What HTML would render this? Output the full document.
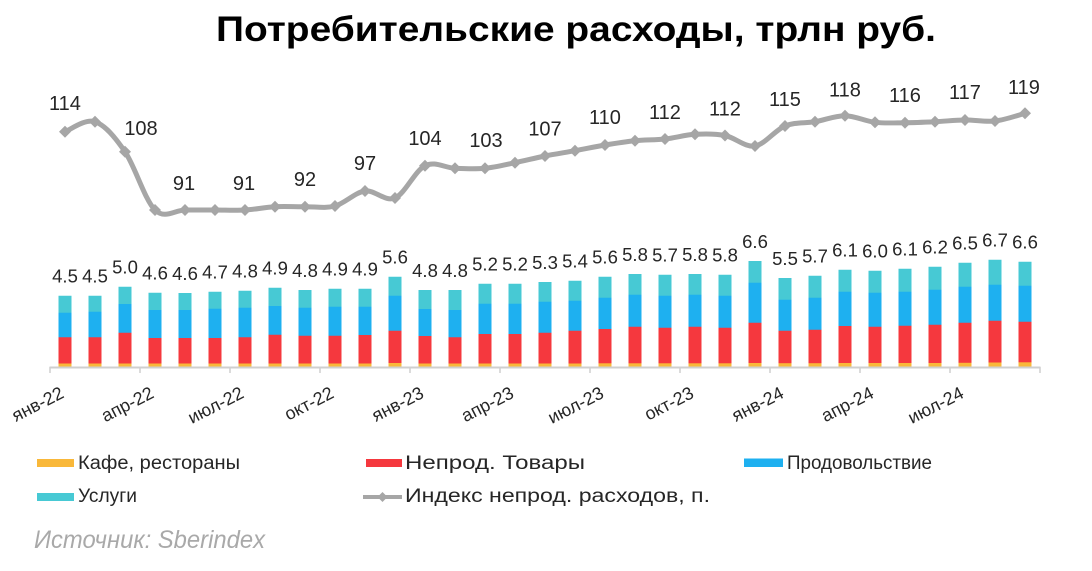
<!DOCTYPE html>
<html>
<head>
<meta charset="utf-8">
<style>
html,body{margin:0;padding:0;background:#fff;}
svg{display:block;}
text{font-family:"Liberation Sans","Noto Sans CJK SC",sans-serif;}
</style>
</head>
<body>
<svg width="1092" height="571" viewBox="0 0 1092 571" xmlns="http://www.w3.org/2000/svg">
<rect width="1092" height="571" fill="#fff"/>

<!-- Title -->
<text x="216" y="41" font-size="35" font-weight="bold" fill="#000" textLength="720" lengthAdjust="spacingAndGlyphs">Потребительские расходы, трлн руб.</text>

<!-- Bars -->
<g stroke-width="13">
<g stroke="#47c9d4">
<line x1="65" y1="295.7" x2="65" y2="367"/>
<line x1="95" y1="295.7" x2="95" y2="367"/>
<line x1="125" y1="286.7" x2="125" y2="367"/>
<line x1="155" y1="292.7" x2="155" y2="367"/>
<line x1="185" y1="293" x2="185" y2="367"/>
<line x1="215" y1="291.7" x2="215" y2="367"/>
<line x1="245" y1="290.7" x2="245" y2="367"/>
<line x1="275" y1="287.7" x2="275" y2="367"/>
<line x1="305" y1="290" x2="305" y2="367"/>
<line x1="335" y1="288.7" x2="335" y2="367"/>
<line x1="365" y1="288.7" x2="365" y2="367"/>
<line x1="395" y1="276.7" x2="395" y2="367"/>
<line x1="425" y1="290" x2="425" y2="367"/>
<line x1="455" y1="290" x2="455" y2="367"/>
<line x1="485" y1="283.7" x2="485" y2="367"/>
<line x1="515" y1="283.7" x2="515" y2="367"/>
<line x1="545" y1="282" x2="545" y2="367"/>
<line x1="575" y1="280.7" x2="575" y2="367"/>
<line x1="605" y1="276.7" x2="605" y2="367"/>
<line x1="635" y1="274" x2="635" y2="367"/>
<line x1="665" y1="274.7" x2="665" y2="367"/>
<line x1="695" y1="274" x2="695" y2="367"/>
<line x1="725" y1="274.7" x2="725" y2="367"/>
<line x1="755" y1="261" x2="755" y2="367"/>
<line x1="785" y1="278" x2="785" y2="367"/>
<line x1="815" y1="275.7" x2="815" y2="367"/>
<line x1="845" y1="269.7" x2="845" y2="367"/>
<line x1="875" y1="270.7" x2="875" y2="367"/>
<line x1="905" y1="268.7" x2="905" y2="367"/>
<line x1="935" y1="266.7" x2="935" y2="367"/>
<line x1="965" y1="262.7" x2="965" y2="367"/>
<line x1="995" y1="259.7" x2="995" y2="367"/>
<line x1="1025" y1="261.7" x2="1025" y2="367"/>
</g>
<g stroke="#1eb0f0">
<line x1="65" y1="312.7" x2="65" y2="367"/>
<line x1="95" y1="311.7" x2="95" y2="367"/>
<line x1="125" y1="304" x2="125" y2="367"/>
<line x1="155" y1="310" x2="155" y2="367"/>
<line x1="185" y1="310" x2="185" y2="367"/>
<line x1="215" y1="308.7" x2="215" y2="367"/>
<line x1="245" y1="307.7" x2="245" y2="367"/>
<line x1="275" y1="306" x2="275" y2="367"/>
<line x1="305" y1="307.7" x2="305" y2="367"/>
<line x1="335" y1="306.7" x2="335" y2="367"/>
<line x1="365" y1="306.7" x2="365" y2="367"/>
<line x1="395" y1="295.7" x2="395" y2="367"/>
<line x1="425" y1="309" x2="425" y2="367"/>
<line x1="455" y1="310" x2="455" y2="367"/>
<line x1="485" y1="303.7" x2="485" y2="367"/>
<line x1="515" y1="303.7" x2="515" y2="367"/>
<line x1="545" y1="301.7" x2="545" y2="367"/>
<line x1="575" y1="300.7" x2="575" y2="367"/>
<line x1="605" y1="297.7" x2="605" y2="367"/>
<line x1="635" y1="294.7" x2="635" y2="367"/>
<line x1="665" y1="295.7" x2="665" y2="367"/>
<line x1="695" y1="294.7" x2="695" y2="367"/>
<line x1="725" y1="295.7" x2="725" y2="367"/>
<line x1="755" y1="282.7" x2="755" y2="367"/>
<line x1="785" y1="299.7" x2="785" y2="367"/>
<line x1="815" y1="297.7" x2="815" y2="367"/>
<line x1="845" y1="291.7" x2="845" y2="367"/>
<line x1="875" y1="292.7" x2="875" y2="367"/>
<line x1="905" y1="291.7" x2="905" y2="367"/>
<line x1="935" y1="289.7" x2="935" y2="367"/>
<line x1="965" y1="286.7" x2="965" y2="367"/>
<line x1="995" y1="284.7" x2="995" y2="367"/>
<line x1="1025" y1="285.7" x2="1025" y2="367"/>
</g>
<g stroke="#f5383e">
<line x1="65" y1="337.3" x2="65" y2="367"/>
<line x1="95" y1="337.3" x2="95" y2="367"/>
<line x1="125" y1="332.7" x2="125" y2="367"/>
<line x1="155" y1="338" x2="155" y2="367"/>
<line x1="185" y1="338" x2="185" y2="367"/>
<line x1="215" y1="338" x2="215" y2="367"/>
<line x1="245" y1="337.3" x2="245" y2="367"/>
<line x1="275" y1="334.7" x2="275" y2="367"/>
<line x1="305" y1="335.7" x2="305" y2="367"/>
<line x1="335" y1="335.7" x2="335" y2="367"/>
<line x1="365" y1="335" x2="365" y2="367"/>
<line x1="395" y1="330.7" x2="395" y2="367"/>
<line x1="425" y1="336" x2="425" y2="367"/>
<line x1="455" y1="337.3" x2="455" y2="367"/>
<line x1="485" y1="334" x2="485" y2="367"/>
<line x1="515" y1="334" x2="515" y2="367"/>
<line x1="545" y1="332.7" x2="545" y2="367"/>
<line x1="575" y1="330.7" x2="575" y2="367"/>
<line x1="605" y1="329" x2="605" y2="367"/>
<line x1="635" y1="326.7" x2="635" y2="367"/>
<line x1="665" y1="327.7" x2="665" y2="367"/>
<line x1="695" y1="326.7" x2="695" y2="367"/>
<line x1="725" y1="327.7" x2="725" y2="367"/>
<line x1="755" y1="322.7" x2="755" y2="367"/>
<line x1="785" y1="330.7" x2="785" y2="367"/>
<line x1="815" y1="329.7" x2="815" y2="367"/>
<line x1="845" y1="326" x2="845" y2="367"/>
<line x1="875" y1="326.7" x2="875" y2="367"/>
<line x1="905" y1="325.7" x2="905" y2="367"/>
<line x1="935" y1="324.7" x2="935" y2="367"/>
<line x1="965" y1="322.7" x2="965" y2="367"/>
<line x1="995" y1="320.7" x2="995" y2="367"/>
<line x1="1025" y1="321.7" x2="1025" y2="367"/>
</g>
<g stroke="#f9b83a">
<line x1="65" y1="363.5" x2="65" y2="367"/>
<line x1="95" y1="363.5" x2="95" y2="367"/>
<line x1="125" y1="363.5" x2="125" y2="367"/>
<line x1="155" y1="363.5" x2="155" y2="367"/>
<line x1="185" y1="363.5" x2="185" y2="367"/>
<line x1="215" y1="363.5" x2="215" y2="367"/>
<line x1="245" y1="363.5" x2="245" y2="367"/>
<line x1="275" y1="363.5" x2="275" y2="367"/>
<line x1="305" y1="363.5" x2="305" y2="367"/>
<line x1="335" y1="363.5" x2="335" y2="367"/>
<line x1="365" y1="363.5" x2="365" y2="367"/>
<line x1="395" y1="363" x2="395" y2="367"/>
<line x1="425" y1="363.5" x2="425" y2="367"/>
<line x1="455" y1="363.5" x2="455" y2="367"/>
<line x1="485" y1="363.5" x2="485" y2="367"/>
<line x1="515" y1="363.5" x2="515" y2="367"/>
<line x1="545" y1="363.5" x2="545" y2="367"/>
<line x1="575" y1="363.5" x2="575" y2="367"/>
<line x1="605" y1="363.3" x2="605" y2="367"/>
<line x1="635" y1="363.3" x2="635" y2="367"/>
<line x1="665" y1="363.3" x2="665" y2="367"/>
<line x1="695" y1="363.3" x2="695" y2="367"/>
<line x1="725" y1="363.3" x2="725" y2="367"/>
<line x1="755" y1="363" x2="755" y2="367"/>
<line x1="785" y1="363.2" x2="785" y2="367"/>
<line x1="815" y1="363.2" x2="815" y2="367"/>
<line x1="845" y1="363" x2="845" y2="367"/>
<line x1="875" y1="363" x2="875" y2="367"/>
<line x1="905" y1="363" x2="905" y2="367"/>
<line x1="935" y1="363" x2="935" y2="367"/>
<line x1="965" y1="362.8" x2="965" y2="367"/>
<line x1="995" y1="362.5" x2="995" y2="367"/>
<line x1="1025" y1="362.3" x2="1025" y2="367"/>
</g>
</g>

<!-- Axis -->
<line x1="49.5" y1="367.5" x2="1040.5" y2="367.5" stroke="#cfcfcf" stroke-width="2"/>
<g stroke="#cfcfcf" stroke-width="1.5">
<line x1="50" y1="367" x2="50" y2="373"/>
<line x1="140" y1="367" x2="140" y2="373"/>
<line x1="230" y1="367" x2="230" y2="373"/>
<line x1="320" y1="367" x2="320" y2="373"/>
<line x1="410" y1="367" x2="410" y2="373"/>
<line x1="500" y1="367" x2="500" y2="373"/>
<line x1="590" y1="367" x2="590" y2="373"/>
<line x1="680" y1="367" x2="680" y2="373"/>
<line x1="770" y1="367" x2="770" y2="373"/>
<line x1="860" y1="367" x2="860" y2="373"/>
<line x1="950" y1="367" x2="950" y2="373"/>
<line x1="1040" y1="367" x2="1040" y2="373"/>
</g>

<!-- X labels -->
<g font-size="18" fill="#262626" text-anchor="end">
<text transform="translate(65,397) rotate(-27)">янв-22</text>
<text transform="translate(155,397) rotate(-27)">апр-22</text>
<text transform="translate(245,397) rotate(-27)">июл-22</text>
<text transform="translate(335,397) rotate(-27)">окт-22</text>
<text transform="translate(425,397) rotate(-27)">янв-23</text>
<text transform="translate(515,397) rotate(-27)">апр-23</text>
<text transform="translate(605,397) rotate(-27)">июл-23</text>
<text transform="translate(695,397) rotate(-27)">окт-23</text>
<text transform="translate(785,397) rotate(-27)">янв-24</text>
<text transform="translate(875,397) rotate(-27)">апр-24</text>
<text transform="translate(965,397) rotate(-27)">июл-24</text>
</g>

<!-- Bar value labels -->
<g font-size="18.5" fill="#262626" text-anchor="middle">
<text x="65" y="282.7">4.5</text>
<text x="95" y="282.7">4.5</text>
<text x="125" y="273.7">5.0</text>
<text x="155" y="279.7">4.6</text>
<text x="185" y="280">4.6</text>
<text x="215" y="278.7">4.7</text>
<text x="245" y="277.7">4.8</text>
<text x="275" y="274.7">4.9</text>
<text x="305" y="277">4.8</text>
<text x="335" y="275.7">4.9</text>
<text x="365" y="275.7">4.9</text>
<text x="395" y="263.7">5.6</text>
<text x="425" y="277">4.8</text>
<text x="455" y="277">4.8</text>
<text x="485" y="270.7">5.2</text>
<text x="515" y="270.7">5.2</text>
<text x="545" y="269">5.3</text>
<text x="575" y="267.7">5.4</text>
<text x="605" y="263.7">5.6</text>
<text x="635" y="261">5.8</text>
<text x="665" y="261.7">5.7</text>
<text x="695" y="261">5.8</text>
<text x="725" y="261.7">5.8</text>
<text x="755" y="248">6.6</text>
<text x="785" y="265">5.5</text>
<text x="815" y="262.7">5.7</text>
<text x="845" y="256.7">6.1</text>
<text x="875" y="257.7">6.0</text>
<text x="905" y="255.7">6.1</text>
<text x="935" y="253.7">6.2</text>
<text x="965" y="249.7">6.5</text>
<text x="995" y="246.7">6.7</text>
<text x="1025" y="248.7">6.6</text>
</g>

<!-- Index line -->
<path fill="none" stroke="#a6a6a6" stroke-width="5" stroke-linejoin="round" stroke-linecap="round"
d="M65,131.7 C70,130 85,118.4 95,121.7 C105,125 115,137 125,151.7 C135,166.4 145,200.3 155,210 C165,219.7 175,210 185,210 C195,210 205,210 215,210 C225,210 235,210.55 245,210 C255,209.45 265,207.25 275,206.7 C285,206.15 295,206.82 305,206.7 C315,206.58 325,208.62 335,206 C345,203.38 355,192.33 365,191 C375,189.67 385,202.22 395,198 C405,193.78 415,170.65 425,165.7 C435,160.75 445,167.87 455,168.3 C465,168.73 475,169.23 485,168.3 C495,167.37 505,164.75 515,162.7 C525,160.65 535,158 545,156 C555,154 565,152.53 575,150.7 C585,148.87 595,146.67 605,145 C615,143.33 625,141.7 635,140.7 C645,139.7 655,140.07 665,139 C675,137.93 685,134.88 695,134.3 C705,133.72 715,133.55 725,135.5 C735,137.45 745,147.58 755,146 C765,144.42 775,130.05 785,126 C795,121.95 805,123.42 815,121.7 C825,119.98 835,115.6 845,115.7 C855,115.8 865,121.13 875,122.3 C885,123.47 895,122.8 905,122.7 C915,122.6 925,122.15 935,121.7 C945,121.25 955,120.12 965,120 C975,119.88 985,122.12 995,121 C1005,119.88 1020,114.6 1025,113.3"/>

<!-- Markers -->
<g fill="#a6a6a6">
<path d="M65,125.7 l6,6 l-6,6 l-6,-6z"/>
<path d="M95,115.7 l6,6 l-6,6 l-6,-6z"/>
<path d="M125,145.7 l6,6 l-6,6 l-6,-6z"/>
<path d="M155,204 l6,6 l-6,6 l-6,-6z"/>
<path d="M185,204 l6,6 l-6,6 l-6,-6z"/>
<path d="M215,204 l6,6 l-6,6 l-6,-6z"/>
<path d="M245,204 l6,6 l-6,6 l-6,-6z"/>
<path d="M275,200.7 l6,6 l-6,6 l-6,-6z"/>
<path d="M305,200.7 l6,6 l-6,6 l-6,-6z"/>
<path d="M335,200 l6,6 l-6,6 l-6,-6z"/>
<path d="M365,185 l6,6 l-6,6 l-6,-6z"/>
<path d="M395,192 l6,6 l-6,6 l-6,-6z"/>
<path d="M425,159.7 l6,6 l-6,6 l-6,-6z"/>
<path d="M455,162.3 l6,6 l-6,6 l-6,-6z"/>
<path d="M485,162.3 l6,6 l-6,6 l-6,-6z"/>
<path d="M515,156.7 l6,6 l-6,6 l-6,-6z"/>
<path d="M545,150 l6,6 l-6,6 l-6,-6z"/>
<path d="M575,144.7 l6,6 l-6,6 l-6,-6z"/>
<path d="M605,139 l6,6 l-6,6 l-6,-6z"/>
<path d="M635,134.7 l6,6 l-6,6 l-6,-6z"/>
<path d="M665,133 l6,6 l-6,6 l-6,-6z"/>
<path d="M695,128.3 l6,6 l-6,6 l-6,-6z"/>
<path d="M725,129.5 l6,6 l-6,6 l-6,-6z"/>
<path d="M755,140 l6,6 l-6,6 l-6,-6z"/>
<path d="M785,120 l6,6 l-6,6 l-6,-6z"/>
<path d="M815,115.7 l6,6 l-6,6 l-6,-6z"/>
<path d="M845,109.7 l6,6 l-6,6 l-6,-6z"/>
<path d="M875,116.3 l6,6 l-6,6 l-6,-6z"/>
<path d="M905,116.7 l6,6 l-6,6 l-6,-6z"/>
<path d="M935,115.7 l6,6 l-6,6 l-6,-6z"/>
<path d="M965,114 l6,6 l-6,6 l-6,-6z"/>
<path d="M995,115 l6,6 l-6,6 l-6,-6z"/>
<path d="M1025,107.3 l6,6 l-6,6 l-6,-6z"/>
</g>

<!-- Index labels -->
<g font-size="20" fill="#262626" text-anchor="middle">
<text x="65" y="110">114</text>
<text x="141" y="135">108</text>
<text x="184" y="190">91</text>
<text x="244" y="190">91</text>
<text x="305" y="186">92</text>
<text x="365" y="170">97</text>
<text x="425" y="145">104</text>
<text x="486" y="147">103</text>
<text x="545" y="135.7">107</text>
<text x="605" y="124">110</text>
<text x="665" y="119">112</text>
<text x="725" y="115.7">112</text>
<text x="785" y="106">115</text>
<text x="845" y="96.7">118</text>
<text x="905" y="102">116</text>
<text x="965" y="99">117</text>
<text x="1024" y="94">119</text>
</g>

<!-- Legend -->
<rect x="37" y="459" width="37" height="8" fill="#f9b83a"/>
<text x="78" y="469" font-size="19" fill="#262626" textLength="162" lengthAdjust="spacingAndGlyphs">Кафе, рестораны</text>
<rect x="366" y="459" width="36" height="8" fill="#f5383e"/>
<text x="405" y="469" font-size="19" fill="#262626" textLength="180" lengthAdjust="spacingAndGlyphs">Непрод. Товары</text>
<rect x="744" y="458.5" width="39" height="8.5" fill="#1eb0f0"/>
<text x="787" y="469" font-size="19" fill="#262626" textLength="145" lengthAdjust="spacingAndGlyphs">Продовольствие</text>
<rect x="37" y="493" width="37" height="8" fill="#47c9d4"/>
<text x="78" y="502" font-size="19" fill="#262626" textLength="59" lengthAdjust="spacingAndGlyphs">Услуги</text>
<line x1="363" y1="497" x2="402" y2="497" stroke="#a6a6a6" stroke-width="4"/>
<path d="M382.5,492 l5,5 l-5,5 l-5,-5z" fill="#a6a6a6"/>
<text x="405" y="502" font-size="19" fill="#262626" textLength="305" lengthAdjust="spacingAndGlyphs">Индекс непрод. расходов, п.</text>

<!-- Source -->
<text x="34" y="548" font-size="25" font-style="italic" fill="#a9a9a9" textLength="231" lengthAdjust="spacingAndGlyphs">Источник: Sberindex</text>
</svg>
</body>
</html>
